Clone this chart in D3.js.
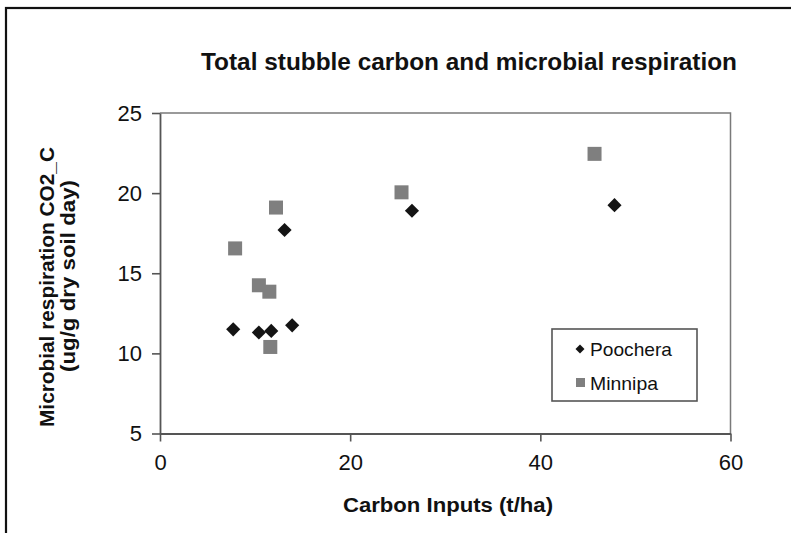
<!DOCTYPE html>
<html>
<head>
<meta charset="utf-8">
<script src="https://cdn.jsdelivr.net/npm/d3@7"></script>
<style>
  html, body { margin: 0; padding: 0; background: #fff; }
  svg { display: block; }
  text { font-family: "Liberation Sans", Arial, sans-serif; fill: #111; }
</style>
</head>
<body>
<svg id="chart" width="791" height="533"></svg>
<script>
// Carbon inputs (t/ha) and respiration (ug CO2-C / g dry soil / day) per site
const poocheraX = [7.7, 10.4, 11.7, 13.9, 13.1, 26.5, 47.8];
const poocheraY = [11.5, 11.3, 11.4, 11.75, 17.7, 18.9, 19.25];
const minnipaX = [7.9, 12.2, 10.4, 11.5, 11.6, 25.4, 45.7];
const minnipaY = [16.55, 19.1, 14.25, 13.85, 10.4, 20.05, 22.45];

const xTicks = [0, 20, 40, 60];
const yTicks = [5, 10, 15, 20, 25];
const seriesNames = ["Poochera", "Minnipa"];

const titleText = "Total stubble carbon and microbial respiration";
const xTitle = "Carbon Inputs (t/ha)";
const yTitle = ["Microbial respiration CO2_C", "(ug/g dry soil day)"];

const svg = d3.select("#chart");

// outer frame
svg.append("rect")
  .attr("x", 6).attr("y", 8).attr("width", 800).attr("height", 540)
  .attr("fill", "none").attr("stroke", "#111").attr("stroke-width", 2.2);

const plot = { left: 160, right: 730.5, top: 113, bottom: 433.5 };

const x = d3.scaleLinear().domain([0, 60]).range([plot.left, plot.right]);
const y = d3.scaleLinear().domain([5, 25]).range([plot.bottom, plot.top]);

// plot area border (top and right)
svg.append("path")
  .attr("d", `M${plot.left},${plot.top}H${plot.right}V${plot.bottom}`)
  .attr("fill", "none").attr("stroke", "#7a7a7a").attr("stroke-width", 1.5);

// axes
const xAxis = svg.append("g")
  .attr("transform", `translate(0,${plot.bottom})`)
  .call(d3.axisBottom(x).tickValues(xTicks).tickSizeInner(8).tickSizeOuter(0).tickPadding(13));
const yAxis = svg.append("g")
  .attr("transform", `translate(${plot.left},0)`)
  .call(d3.axisLeft(y).tickValues(yTicks).tickSizeInner(8).tickSizeOuter(0).tickPadding(10));

[xAxis, yAxis].forEach(g => {
  g.select(".domain").attr("stroke", "#555").attr("stroke-width", 1.8);
  g.selectAll(".tick line").attr("stroke", "#555").attr("stroke-width", 1.6);
  g.selectAll(".tick text")
    .attr("font-family", "'Liberation Sans', Arial, sans-serif")
    .attr("font-size", 22).attr("fill", "#111");
});

// title
svg.append("text")
  .attr("x", 469).attr("y", 70)
  .attr("text-anchor", "middle")
  .attr("font-size", 23).attr("font-weight", "bold")
  .attr("textLength", 536).attr("lengthAdjust", "spacingAndGlyphs")
  .text(titleText);

// x axis title
svg.append("text")
  .attr("x", 448).attr("y", 512)
  .attr("text-anchor", "middle")
  .attr("font-size", 20).attr("font-weight", "bold")
  .attr("textLength", 210).attr("lengthAdjust", "spacingAndGlyphs")
  .text(xTitle);

// y axis title (two lines)
const yt = svg.append("g").attr("transform", "translate(54,287) rotate(-90)");
yt.append("text")
  .attr("x", 0).attr("y", 0)
  .attr("text-anchor", "middle")
  .attr("font-size", 20).attr("font-weight", "bold")
  .attr("textLength", 280).attr("lengthAdjust", "spacingAndGlyphs")
  .text(yTitle[0]);
yt.append("text")
  .attr("x", 11).attr("y", 21)
  .attr("text-anchor", "middle")
  .attr("font-size", 20).attr("font-weight", "bold")
  .attr("textLength", 192).attr("lengthAdjust", "spacingAndGlyphs")
  .text(yTitle[1]);

// markers
const diamond = d3.symbol().type(d3.symbolSquare).size(100);
const poochera = poocheraX.map((v, i) => ({ x: v, y: poocheraY[i] }));
const minnipa = minnipaX.map((v, i) => ({ x: v, y: minnipaY[i] }));

svg.append("g").selectAll("rect")
  .data(minnipa).join("rect")
  .attr("x", d => x(d.x) - 7).attr("y", d => y(d.y) - 7)
  .attr("width", 14).attr("height", 14)
  .attr("fill", "#7f7f7f");

svg.append("g").selectAll("path")
  .data(poochera).join("path")
  .attr("d", diamond)
  .attr("transform", d => `translate(${x(d.x)},${y(d.y)}) rotate(45)`)
  .attr("fill", "#141414");

// legend
const lg = svg.append("g");
lg.append("rect")
  .attr("x", 552).attr("y", 329).attr("width", 145).attr("height", 72)
  .attr("fill", "#fff").attr("stroke", "#555").attr("stroke-width", 1.6);
lg.append("path")
  .attr("d", d3.symbol().type(d3.symbolSquare).size(40))
  .attr("transform", "translate(580,349) rotate(45)")
  .attr("fill", "#141414");
lg.append("rect")
  .attr("x", 576).attr("y", 378).attr("width", 9).attr("height", 9)
  .attr("fill", "#7f7f7f");
lg.append("text")
  .attr("x", 590).attr("y", 356)
  .attr("font-size", 19)
  .attr("textLength", 82).attr("lengthAdjust", "spacingAndGlyphs")
  .text(seriesNames[0]);
lg.append("text")
  .attr("x", 590).attr("y", 390)
  .attr("font-size", 19)
  .attr("textLength", 68).attr("lengthAdjust", "spacingAndGlyphs")
  .text(seriesNames[1]);
</script>
</body>
</html>
